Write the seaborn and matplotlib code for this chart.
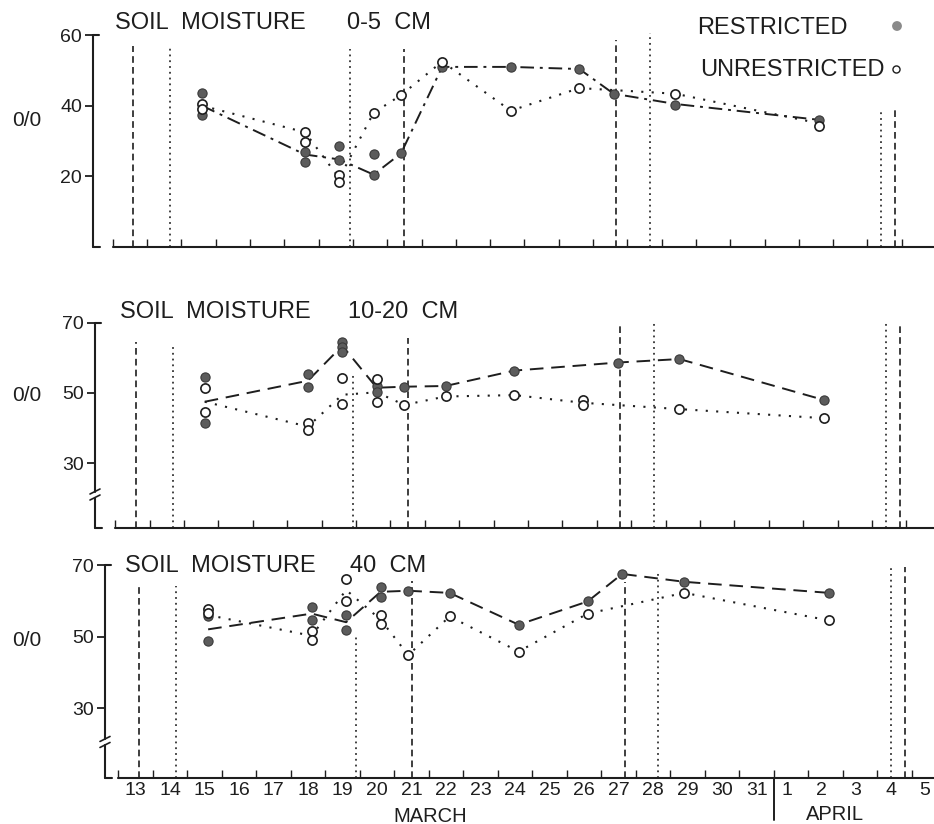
import numpy as np
import pandas as pd
import matplotlib
matplotlib.use("Agg")
import matplotlib.pyplot as plt
import seaborn as sns

# ---------------- data (day numbers: March d -> d, April d -> 31 + d) ----------------
day_labels = ["13", "14", "15", "16", "17", "18", "19", "20", "21", "22", "23", "24", "25",
              "26", "27", "28", "29", "30", "31", "1", "2", "3", "4", "5"]
label_days = [13, 14, 15, 16, 17, 18, 19, 20, 21, 22, 23, 24, 25, 26, 27, 28, 29, 30, 31,
              32, 33, 34, 35, 36]

# 0-5 cm
top_r_pts_day = [15, 15, 18, 18, 19, 19, 20, 20, 20.8, 22, 24, 26, 27, 28.8, 33]
top_r_pts_val = [43.5, 37.5, 27.0, 24.2, 28.5, 24.5, 26.2, 20.5, 26.5, 51.0, 51.0, 50.4, 43.4, 40.3, 36.0]
top_u_pts_day = [15, 15, 18, 18, 19, 19, 20, 20.8, 22, 24, 26, 28.8, 33]
top_u_pts_val = [40.5, 39.0, 32.7, 29.6, 20.5, 18.4, 38.0, 43.0, 52.5, 38.6, 45.0, 43.4, 34.4]
top_r_line_day = [15, 18, 19, 20, 20.8, 22, 24, 26, 27, 28.8, 33]
top_r_line_val = [40.0, 26.2, 24.8, 20.5, 26.5, 51.0, 51.0, 50.4, 43.4, 40.5, 36.0]
top_u_line_day = [15, 18, 19, 20, 20.8, 22, 24, 26, 28.8, 33]
top_u_line_val = [40.0, 32.5, 19.5, 38.0, 43.0, 52.5, 38.6, 45.0, 43.4, 35.0]

# 10-20 cm
mid_r_pts_day = [15, 15, 18, 18, 19, 19, 19, 20, 20, 20.8, 22, 24, 27, 28.8, 33]
mid_r_pts_val = [54.7, 41.4, 55.4, 51.7, 64.7, 63.2, 61.8, 52.0, 50.4, 51.8, 52.0, 56.4, 58.7, 59.7, 48.0]
mid_u_pts_day = [15, 15, 18, 18, 19, 19, 20, 20, 20.8, 22, 24, 26, 26, 28.8, 33]
mid_u_pts_val = [51.4, 44.7, 41.4, 39.4, 54.3, 46.9, 54.0, 47.5, 46.6, 49.0, 49.4, 47.9, 46.5, 45.4, 42.8]
mid_r_line_day = [15, 18, 19, 20, 20.8, 22, 24, 27, 28.8, 33]
mid_r_line_val = [47.5, 53.5, 63.5, 51.5, 51.8, 52.0, 56.4, 58.7, 59.7, 48.0]
mid_u_line_day = [15, 18, 19, 20, 20.8, 22, 24, 26, 28.8, 33]
mid_u_line_val = [47.5, 40.4, 49.5, 50.2, 46.6, 49.0, 49.4, 47.2, 45.4, 42.8]

# 40 cm
bot_r_pts_day = [15, 15, 18, 18, 19, 19, 20, 20, 20.8, 22, 24, 26, 27, 28.8, 33]
bot_r_pts_val = [55.8, 48.8, 58.3, 54.5, 56.1, 51.8, 63.9, 61.1, 62.8, 62.2, 53.3, 59.8, 67.5, 65.3, 62.2]
bot_u_pts_day = [15, 15, 18, 18, 19, 19, 20, 20, 20.8, 22, 24, 26, 28.8, 33]
bot_u_pts_val = [57.8, 56.6, 51.4, 49.0, 66.0, 60.0, 55.9, 53.6, 44.8, 55.6, 45.8, 56.4, 62.2, 54.5]
bot_r_line_day = [15, 18, 19, 20, 20.8, 22, 24, 26, 27, 28.8, 33]
bot_r_line_val = [52.0, 56.4, 54.0, 62.5, 62.8, 62.2, 53.3, 59.8, 67.5, 65.3, 62.2]
bot_u_line_day = [15, 18, 19, 20, 20.8, 22, 24, 26, 28.8, 33]
bot_u_line_val = [56.0, 50.2, 63.0, 54.7, 44.8, 55.6, 45.8, 56.4, 62.2, 54.5]

# event lines (day positions) and their top values per panel
dashed_event_days = [13.0, 20.9, 27.07, 35.2]
dotted_event_days = [14.07, 19.3, 28.05, 34.8]
top_dashed_tops = [57, 56, 58.6, 39]
top_dotted_tops = [57, 56, 60.5, 38.3]
mid_dashed_tops = [64.6, 65.7, 70, 70]
mid_dotted_tops = [63.7, 56, 70.8, 70]
bot_dashed_tops = [64, 65.5, 65.3, 69.4]
bot_dotted_tops = [64, 50.3, 68, 69.4]

panel_titles = [("SOIL  MOISTURE", "0-5  CM"), ("SOIL  MOISTURE", "10-20  CM"), ("SOIL  MOISTURE", "40  CM")]

# ---------------- style ----------------
sns.set_theme(style="white")
plt.rcParams["font.family"] = ["Liberation Sans", "DejaVu Sans"]
INK = "#1e1e1e"
FILL = "#5c5c5c"

W, H = 934, 824
fig = plt.figure(figsize=(W / 100, H / 100), dpi=100)
fig.patch.set_facecolor("white")


def fig_axes(left, right, top, bottom):
    return fig.add_axes([left / W, 1 - bottom / H, (right - left) / W, (bottom - top) / H])


panels = [
    dict(box=(93, 934, 33, 247), xlim=(11.82, 36.34), ylim=(0, 60.6), yticks=[20, 40, 60],
         ytop=60, brk=None,
         r_pts=(top_r_pts_day, top_r_pts_val), u_pts=(top_u_pts_day, top_u_pts_val),
         r_line=(top_r_line_day, top_r_line_val), u_line=(top_u_line_day, top_u_line_val),
         dtops=top_dashed_tops, otops=top_dotted_tops,
         title_xy=(115, 347, 23), pct_y=120, r_ls=(0, (7, 3, 1.5, 3))),
    dict(box=(95, 934, 321, 528), xlim=(11.81, 36.2), ylim=(11.43, 70.57), yticks=[30, 50, 70],
         ytop=70, brk=21.0,
         r_pts=(mid_r_pts_day, mid_r_pts_val), u_pts=(mid_u_pts_day, mid_u_pts_val),
         r_line=(mid_r_line_day, mid_r_line_val), u_line=(mid_u_line_day, mid_u_line_val),
         dtops=mid_dashed_tops, otops=mid_dotted_tops,
         title_xy=(120, 348, 312), pct_y=395, r_ls=(0, (7, 4))),
    dict(box=(105, 934, 563, 778), xlim=(12.01, 36.04), ylim=(10.42, 70.56), yticks=[30, 50, 70],
         ytop=70, brk=20.5,
         r_pts=(bot_r_pts_day, bot_r_pts_val), u_pts=(bot_u_pts_day, bot_u_pts_val),
         r_line=(bot_r_line_day, bot_r_line_val), u_line=(bot_u_line_day, bot_u_line_val),
         dtops=bot_dashed_tops, otops=bot_dotted_tops,
         title_xy=(125, 350, 566), pct_y=640, r_ls=(0, (7, 4))),
]

for i, p in enumerate(panels):
    ax = fig_axes(*p["box"])
    ax.set_facecolor("none")
    x0, x1 = p["xlim"]
    y0, y1 = p["ylim"]
    for s in ax.spines.values():
        s.set_visible(False)
    pxx = (p["box"][1] - p["box"][0]) / (x1 - x0)   # px per day
    pxy = (p["box"][3] - p["box"][2]) / (y1 - y0)   # px per unit

    # event lines
    for d, t in zip(dashed_event_days, p["dtops"]):
        ax.plot([d, d], [y0, t], color=INK, lw=1.2, ls=(0, (4, 2.5)), zorder=1)
    for d, t in zip(dotted_event_days, p["otops"]):
        ax.plot([d, d], [y0, t], color="#333333", lw=1.3, ls=(0, (1, 2.2)), zorder=1)

    # lines
    sns.lineplot(x=p["r_line"][0], y=p["r_line"][1], ax=ax, color=INK, lw=1.4,
                 linestyle=p["r_ls"], estimator=None, sort=False, zorder=2)
    sns.lineplot(x=p["u_line"][0], y=p["u_line"][1], ax=ax, color=INK, lw=1.5,
                 linestyle=(0, (1, 4)), estimator=None, sort=False, zorder=2)

    # points
    sns.scatterplot(x=p["r_pts"][0], y=p["r_pts"][1], ax=ax, s=44, color=FILL,
                    edgecolor="#3a3a3a", linewidth=0.8, zorder=4)
    sns.scatterplot(x=p["u_pts"][0], y=p["u_pts"][1], ax=ax, s=44, color="white",
                    edgecolor=INK, linewidth=1.2, zorder=5)
    ax.set_xlabel("")
    ax.set_ylabel("")

    # axes lines (hand-drawn look)
    lw_ax = 1.5
    if p["brk"] is None:
        ax.plot([x0, x0], [y0, p["ytop"]], color=INK, lw=lw_ax, clip_on=False)
    else:
        b = p["brk"]
        g = 3.0 / pxy
        ax.plot([x0, x0], [b + g, p["ytop"]], color=INK, lw=lw_ax, clip_on=False)
        ax.plot([x0, x0], [y0, b - g], color=INK, lw=lw_ax, clip_on=False)
        dx = 5.0 / pxx
        for off in (g, -g):
            ax.plot([x0 - dx, x0 + dx], [b + off - 2.5 / pxy, b + off + 2.5 / pxy],
                    color=INK, lw=1.2, clip_on=False)
    # top hook and bottom foot
    ax.plot([x0, x0 + 6 / pxx], [p["ytop"], p["ytop"]], color=INK, lw=lw_ax, clip_on=False)
    ax.plot([x0, x0 + 7 / pxx], [y0, y0], color=INK, lw=lw_ax, clip_on=False)
    # x axis
    ax.plot([12.4, x1], [y0, y0], color=INK, lw=lw_ax, clip_on=False)

    # ticks
    ax.set_yticks(p["yticks"])
    ax.set_yticklabels([str(v) for v in p["yticks"]])
    ax.tick_params(axis="y", which="major", direction="out", length=6, width=1.3,
                   left=True, color=INK, labelsize=14, labelcolor=INK, pad=2)
    ax.set_xticks(np.arange(12.4, x1, 1.0), minor=True)
    ax.tick_params(axis="x", which="minor", direction="in", length=6, width=1.0,
                   bottom=True, color=INK)
    if i == 2:
        pos = [d - 0.1 if d <= 31 else d - 0.22 for d in label_days]
        ax.set_xticks(pos)
        ax.set_xticklabels(day_labels)
        ax.tick_params(axis="x", which="major", length=0, labelsize=14, labelcolor=INK, pad=3)
        # month separator
        ax.plot([31.4, 31.4], [y0, y0 - 42 / pxy], color=INK, lw=1.4, clip_on=False)
    else:
        ax.set_xticks([])
    ax.set_xlim(x0, x1)
    ax.set_ylim(y0, y1)
    ax.grid(False)

    # titles
    tx1, tx2, ty = p["title_xy"]
    fig.text(tx1 / W, 1 - ty / H, panel_titles[i][0], fontsize=17, color=INK, va="center", ha="left")
    fig.text(tx2 / W, 1 - ty / H, panel_titles[i][1], fontsize=17, color=INK, va="center", ha="left")
    fig.text(27 / W, 1 - p["pct_y"] / H, "0/0", fontsize=15, color=INK, va="center", ha="center")

# month labels
fig.text(430 / W, 1 - 816 / H, "MARCH", fontsize=14.5, color=INK, ha="center", va="center")
fig.text(835 / W, 1 - 814 / H, "APRIL", fontsize=14.5, color=INK, ha="center", va="center")

# legend
fig.text(697 / W, 1 - 28 / H, "RESTRICTED", fontsize=17, color=INK, ha="left", va="center")
fig.text(700 / W, 1 - 70 / H, "UNRESTRICTED", fontsize=17, color=INK, ha="left", va="center")
lax = fig.add_axes([0, 0, 1, 1])
lax.set_xlim(0, W)
lax.set_ylim(H, 0)
lax.axis("off")
lax.set_facecolor("none")
lax.scatter([897], [26], s=50, color="#8a8a8a", edgecolor="none")
lax.scatter([896], [69], s=26, color="white", edgecolor=INK, linewidth=1.0)

fig.savefig("out.png", dpi=100, facecolor="white")
